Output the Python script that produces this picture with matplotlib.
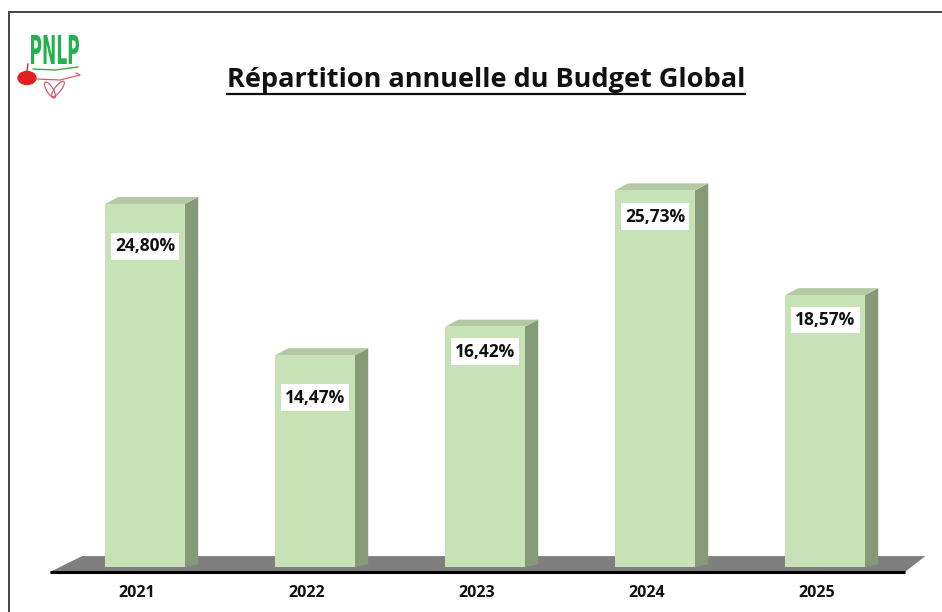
import numpy as np
import matplotlib.pyplot as plt
from matplotlib.patches import Polygon, Ellipse, Rectangle, PathPatch
from matplotlib.textpath import TextPath
from matplotlib.font_manager import FontProperties
from matplotlib.transforms import Affine2D

years = ["2021", "2022", "2023", "2024", "2025"]
shares = [24.80, 14.47, 16.42, 25.73, 18.57]
share_labels = ["24,80%", "14,47%", "16,42%", "25,73%", "18,57%"]
# how far under the bar top each value box sits (in %)
label_drop = [2.9, 2.9, 1.7, 1.8, 1.7]

title = "Répartition annuelle du Budget Global"

front_col = "#c8e2b8"
top_col = "#b3c9a3"
side_col = "#879a78"
floor_col = "#7f7f7f"

W, H = 942, 612
fig = plt.figure(figsize=(W / 100, H / 100), dpi=100)
fig.patch.set_facecolor("white")
ax = fig.add_axes([0, 0, 1, 1])
ax.set_xlim(-0.853, 4.688)
ax.set_ylim(-3.07, 38.73)
ax.axis("off")

x = np.arange(len(years))
width = 0.47
dx, dy = 0.078, 0.48

# floor
floor = Polygon([(-0.56, -0.34), (4.47, -0.34), (4.59, 0.75), (-0.37, 0.75)],
                closed=True, facecolor=floor_col, edgecolor="none", zorder=1)
ax.add_patch(floor)
ax.plot([-0.56, 4.47], [-0.37, -0.37], color="black", lw=2.2, zorder=2,
        solid_capstyle="butt")

# bars with a fake depth
bars = ax.bar(x, shares, width=width, color=front_col, zorder=4)
for b in bars:
    x0 = b.get_x()
    x1 = x0 + b.get_width()
    h = b.get_height()
    side = Polygon([(x1, 0), (x1 + dx, dy * 0.4), (x1 + dx, h + dy), (x1, h)],
                   closed=True, facecolor=side_col, edgecolor="none", zorder=3)
    top = Polygon([(x0, h), (x0 + dx, h + dy), (x1 + dx, h + dy), (x1, h)],
                  closed=True, facecolor=top_col, edgecolor="none", zorder=3)
    ax.add_patch(side)
    ax.add_patch(top)

fam = ["Open Sans", "DejaVu Sans"]
for i, v in enumerate(shares):
    ax.text(x[i], v - label_drop[i], share_labels[i], ha="center", va="center",
            fontsize=12.5, fontweight="bold", family=fam, color="#111111",
            zorder=6,
            bbox=dict(boxstyle="square,pad=0.25", facecolor="white",
                      edgecolor="none"))
    ax.text(x[i] - 0.05, -1.78, years[i], ha="center", va="center",
            fontsize=11.5, fontweight="bold", family=fam, color="#111111")

# frame of the slide
fig.add_artist(Rectangle((9 / W, -0.1), 1.2, 1 - 12 / H + 0.1,
                         transform=fig.transFigure, fill=False,
                         edgecolor="#444444", lw=1.4))

# title, underlined by hand
t = fig.text(486 / W, 1 - 80 / H, title, ha="center", va="center",
             fontsize=19.5, fontweight="bold", family=fam, color="#111111")
fig.canvas.draw()
bb = t.get_window_extent(renderer=fig.canvas.get_renderer())
uy = H - 93.5
fig.add_artist(plt.Line2D([bb.x0 / W, bb.x1 / W], [uy / H, uy / H],
                          transform=fig.transFigure, color="#111111", lw=1.6))

# little logo: condensed green letters squeezed into their box
tp = TextPath((0, 0), "PNLP", size=1,
              prop=FontProperties(family="DejaVu Sans", weight="bold"))
ext = tp.get_extents()
bx0, bx1, by_top, by_bot = 31, 79, 35, 64
sx = (bx1 - bx0) / ext.width / W
sy = (by_bot - by_top) / ext.height / H
tr = (Affine2D().translate(-ext.x0, -ext.y0).scale(sx, sy)
      .translate(bx0 / W, 1 - by_bot / H) + fig.transFigure)
fig.add_artist(PathPatch(tp, transform=tr, facecolor="#22b14c",
                         edgecolor="none"))
fig.add_artist(plt.Line2D([33 / W, 55 / W, 78 / W],
                          [1 - 69 / H, 1 - 70 / H, 1 - 67 / H],
                          transform=fig.transFigure, color="#3aa845", lw=1))
fig.add_artist(Ellipse((27 / W, 1 - 78 / H), 18 / W, 13 / H,
                       transform=fig.transFigure, color="#e02020"))
fig.add_artist(plt.Line2D([27 / W, 28 / W], [1 - 71 / H, 1 - 64 / H],
                          transform=fig.transFigure, color="#e02020", lw=1))
fig.add_artist(Ellipse((50 / W, 1 - 90 / H), 7 / W, 17 / H, angle=20,
                       transform=fig.transFigure, fill=False,
                       edgecolor="#d06070", lw=0.9))
fig.add_artist(Ellipse((58 / W, 1 - 89 / H), 7 / W, 17 / H, angle=-25,
                       transform=fig.transFigure, fill=False,
                       edgecolor="#d06070", lw=0.9))
fig.add_artist(plt.Line2D([36 / W, 60 / W, 80 / W, 76 / W],
                          [1 - 79 / H, 1 - 80 / H, 1 - 75 / H, 1 - 73 / H],
                          transform=fig.transFigure, color="#d06070", lw=0.9))

plt.savefig("out.png", dpi=100)
